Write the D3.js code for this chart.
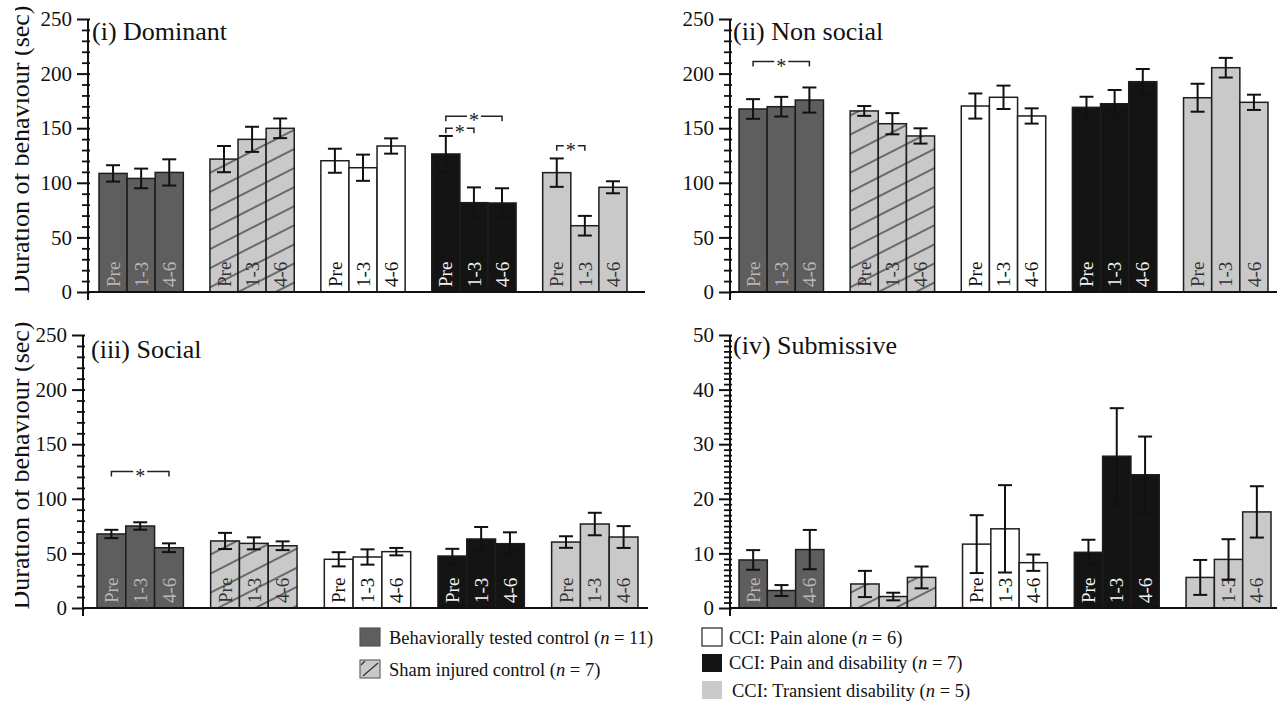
<!DOCTYPE html>
<html>
<head>
<meta charset="utf-8">
<script src="https://cdn.jsdelivr.net/npm/d3@7"></script>
<style>
  body { margin: 0; background: #fff; }
  svg { display: block; }
</style>
</head>
<body>
<svg width="1282" height="702" font-family="'Liberation Serif', 'DejaVu Serif', serif"></svg>
<script>
// groups and time points
var groups = ["Behaviorally tested control", "Sham injured control", "CCI: Pain alone",
              "CCI: Pain and disability", "CCI: Transient disability"];
var groupN = [11, 7, 6, 7, 5];
var periods = ["Pre", "1-3", "4-6"];

// means and SEM, one row per group
var dominantMean   = [[108.6, 104, 109.5], [121.7, 139.8, 149.9], [120.2, 113.8, 133.7], [126.4, 81.8, 81.5], [109.3, 60.7, 95.9]];
var dominantErr    = [[7.5, 9, 12], [12, 11.5, 9], [11, 12, 7], [16.5, 14, 13.5], [13, 9, 5.5]];
var nonSocialMean  = [[167.6, 169.7, 175.8], [165.8, 154.1, 142.9], [170.3, 178.3, 161.2], [169.1, 172.4, 192.6], [177.9, 205.4, 173.7]];
var nonSocialErr   = [[9, 9, 11.5], [4.5, 9.7, 7], [11.5, 10.7, 7], [9.7, 12.6, 11.6], [12.8, 9, 7]];
var socialMean     = [[67.8, 75.1, 55.2], [61.4, 59.2, 57], [44.6, 46.7, 51.6], [47.6, 63.2, 58.9], [60.4, 76.9, 65]];
var socialErr      = [[3.8, 3.4, 4], [7.4, 5.5, 4], [6.5, 7, 3.4], [6.6, 11, 10.4], [5.3, 10.3, 10]];
var submissiveMean = [[8.8, 3.2, 10.7], [4.4, 2.1, 5.6], [11.7, 14.5, 8.3], [10.2, 27.8, 24.4], [5.6, 8.9, 17.6]];
var submissiveErr  = [[1.8, 1, 3.6], [2.4, 0.7, 2], [5.3, 8, 1.5], [2.3, 8.8, 7], [3.2, 3.7, 4.7]];

var ticks250 = [0, 50, 100, 150, 200, 250];
var ticks50 = [0, 10, 20, 30, 40, 50];
var titles = ["(i) Dominant", "(ii) Non social", "(iii) Social", "(iv) Submissive"];
var yTitle = "Duration of behaviour (sec)";

// significance brackets: panel, group, from period, to period, height in data units
var brackets = [
  {panel: 0, group: 3, from: 0, to: 2, y: 161},
  {panel: 0, group: 3, from: 0, to: 1, y: 150},
  {panel: 0, group: 4, from: 0, to: 1, y: 134},
  {panel: 1, group: 0, from: 0, to: 2, y: 211},
  {panel: 2, group: 0, from: 0, to: 2, y: 125}
];

var fills = ["#5e5e5e", "#c9c9c9", "#ffffff", "#141414", "#c9c9c9"];
var labelColors = ["#b8b8b8", "#333", "#111", "#f2f2f2", "#333"];
var serif = "'Liberation Serif', 'DejaVu Serif', serif";

var panels = [
  {mean: dominantMean, err: dominantErr, ticks: ticks250, minor: 10, ax: 88, x0: 99, x1: 627, end: 645, yTop: 19, yBot: 292, tx: 92, ty: 40, ylab: true},
  {mean: nonSocialMean, err: nonSocialErr, ticks: ticks250, minor: 10, ax: 730, x0: 739, x1: 1268, end: 1277, yTop: 19, yBot: 292, tx: 733, ty: 40, ylab: false},
  {mean: socialMean, err: socialErr, ticks: ticks250, minor: 10, ax: 83, x0: 97, x1: 638, end: 648, yTop: 335, yBot: 608, tx: 91, ty: 358, ylab: true},
  {mean: submissiveMean, err: submissiveErr, ticks: ticks50, minor: 1, ax: 730, x0: 739, x1: 1271, end: 1277, yTop: 335, yBot: 608, tx: 733, ty: 354, ylab: false}
];

var svg = d3.select("svg");
var defs = svg.append("defs");

var hatch = defs.append("pattern")
    .attr("id", "hatch")
    .attr("patternUnits", "userSpaceOnUse")
    .attr("width", 20)
    .attr("height", 17)
    .attr("patternTransform", "rotate(-27)");
hatch.append("line")
    .attr("x1", 0).attr("y1", 1).attr("x2", 20).attr("y2", 1)
    .attr("stroke", "#2a2a2a").attr("stroke-width", 1.2);

// the original scan cuts the axis title off on the left
defs.append("clipPath").attr("id", "ycut")
  .append("rect").attr("x", 15).attr("y", 0).attr("width", 60).attr("height", 702);

panels.forEach(function(p, pi) {
  var g = svg.append("g");
  var max = p.ticks[p.ticks.length - 1];
  var y = d3.scaleLinear().domain([0, max]).range([p.yBot, p.yTop]);
  var gx = d3.scaleBand().domain(d3.range(groups.length)).range([p.x0, p.x1]).paddingInner(0.24);
  var px = d3.scaleBand().domain(periods).range([0, gx.bandwidth()]);

  // bars
  p.mean.forEach(function(row, gi) {
    var bg = g.append("g").attr("transform", "translate(" + gx(gi) + ",0)");
    row.forEach(function(v, k) {
      var x = px(periods[k]), w = px.bandwidth(), h = p.yBot - y(v);
      bg.append("rect")
          .attr("x", x).attr("y", y(v)).attr("width", w).attr("height", h)
          .attr("fill", fills[gi]);
      if (gi == 1) {
        bg.append("rect")
            .attr("x", x).attr("y", y(v)).attr("width", w).attr("height", h)
            .attr("fill", "url(#hatch)");
      }
      bg.append("rect")
          .attr("x", x).attr("y", y(v)).attr("width", w).attr("height", h)
          .attr("fill", "none").attr("stroke", "#1e1e1e").attr("stroke-width", 1.5);
      if (h > 38) {
        bg.append("text")
            .attr("transform", "translate(" + (x + w / 2) + "," + (p.yBot - 5) + ") rotate(-90)")
            .attr("dy", "0.35em")
            .attr("font-size", 19)
            .attr("fill", labelColors[gi])
            .text(periods[k]);
      }
    });
    // error bars
    row.forEach(function(v, k) {
      var cx = px(periods[k]) + px.bandwidth() / 2, e = p.err[gi][k];
      var y1 = y(v + e), y2 = y(Math.max(0, v - e));
      bg.append("line").attr("x1", cx).attr("x2", cx).attr("y1", y1).attr("y2", y2)
          .attr("stroke", "#111").attr("stroke-width", 2);
      [y1, y2].forEach(function(yy) {
        bg.append("line").attr("x1", cx - 7).attr("x2", cx + 7).attr("y1", yy).attr("y2", yy)
            .attr("stroke", "#111").attr("stroke-width", 2);
      });
    });
  });

  // significance brackets
  brackets.filter(function(b) { return b.panel == pi; }).forEach(function(b) {
    var xa = gx(b.group) + px(periods[b.from]) + px.bandwidth() / 2;
    var xb = gx(b.group) + px(periods[b.to]) + px.bandwidth() / 2;
    var yy = y(b.y), xm = (xa + xb) / 2;
    g.append("path")
        .attr("d", "M" + xa + "," + (yy + 5) + "V" + yy + "H" + (xm - 7)
            + "M" + (xm + 7) + "," + yy + "H" + xb + "V" + (yy + 5))
        .attr("fill", "none").attr("stroke", "#222").attr("stroke-width", 1.5);
    g.append("text")
        .attr("x", xm).attr("y", yy + 11)
        .attr("text-anchor", "middle")
        .attr("font-size", 20)
        .attr("fill", "#222")
        .text("*");
  });

  // baseline
  g.append("line")
      .attr("x1", p.ax).attr("x2", p.end).attr("y1", p.yBot).attr("y2", p.yBot)
      .attr("stroke", "#111").attr("stroke-width", 2);

  // y axis: minor then major ticks
  var minor = d3.range(0, max + p.minor / 2, p.minor).filter(function(t) { return p.ticks.indexOf(t) < 0; });
  var axG = g.append("g").attr("transform", "translate(" + p.ax + ",0)");
  axG.append("g")
      .call(d3.axisLeft(y).tickValues(minor).tickSize(6).tickSizeOuter(0).tickFormat(""))
      .call(function(s) { s.select(".domain").remove(); })
      .selectAll("line").attr("x1", 2).attr("stroke", "#111").attr("stroke-width", 1.8);
  var major = axG.append("g")
      .call(d3.axisLeft(y).tickValues(p.ticks).tickSize(11).tickSizeOuter(0).tickPadding(5))
      .attr("font-family", serif);
  major.select(".domain").remove();
  major.selectAll("line").attr("x1", 2).attr("stroke", "#111").attr("stroke-width", 2);
  major.selectAll("text")
      .attr("font-size", 21)
      .attr("fill", "#111");
  axG.append("line")
      .attr("x1", 0).attr("x2", 0).attr("y1", p.yTop).attr("y2", p.yBot + 8)
      .attr("stroke", "#111").attr("stroke-width", 2);

  // panel title
  g.append("text")
      .attr("x", p.tx).attr("y", p.ty)
      .attr("font-size", 26)
      .attr("fill", "#111")
      .text(titles[pi]);

  if (p.ylab) {
    svg.append("g")
        .attr("clip-path", "url(#ycut)")
      .append("text")
        .attr("transform", "translate(29," + ((p.yTop + p.yBot) / 2 - 6) + ") rotate(-90)")
        .attr("text-anchor", "middle")
        .attr("font-size", 26)
        .attr("fill", "#111")
        .text(yTitle);
  }
});

// legend
var legendPos = [
  {x: 360, y: 628, tx: 389, ty: 644, stroke: "#555"},
  {x: 360, y: 660, tx: 389, ty: 676, stroke: "#666"},
  {x: 702, y: 628, tx: 729, ty: 644, stroke: "#222"},
  {x: 702, y: 654, tx: 729, ty: 669, stroke: "none"},
  {x: 702, y: 681, tx: 732, ty: 697, stroke: "none"}
];
var leg = svg.append("g");
groups.forEach(function(name, i) {
  var lp = legendPos[i];
  leg.append("rect")
      .attr("x", lp.x).attr("y", lp.y).attr("width", 20).attr("height", 18)
      .attr("fill", fills[i]).attr("stroke", lp.stroke).attr("stroke-width", 1.2);
  if (i == 1) {
    leg.append("line")
        .attr("x1", lp.x + 3).attr("y1", lp.y + 16).attr("x2", lp.x + 18).attr("y2", lp.y + 3)
        .attr("stroke", "#333").attr("stroke-width", 1.2);
    leg.append("line")
        .attr("x1", lp.x + 1).attr("y1", lp.y + 5).attr("x2", lp.x + 5).attr("y2", lp.y + 1)
        .attr("stroke", "#333").attr("stroke-width", 1.2);
  }
  var t = leg.append("text")
      .attr("x", lp.tx).attr("y", lp.ty)
      .attr("font-size", 18.5)
      .attr("fill", "#111");
  t.append("tspan").text(name + " (");
  t.append("tspan").attr("font-style", "italic").text("n");
  t.append("tspan").text(" = " + groupN[i] + ")");
});
</script>
</body>
</html>
